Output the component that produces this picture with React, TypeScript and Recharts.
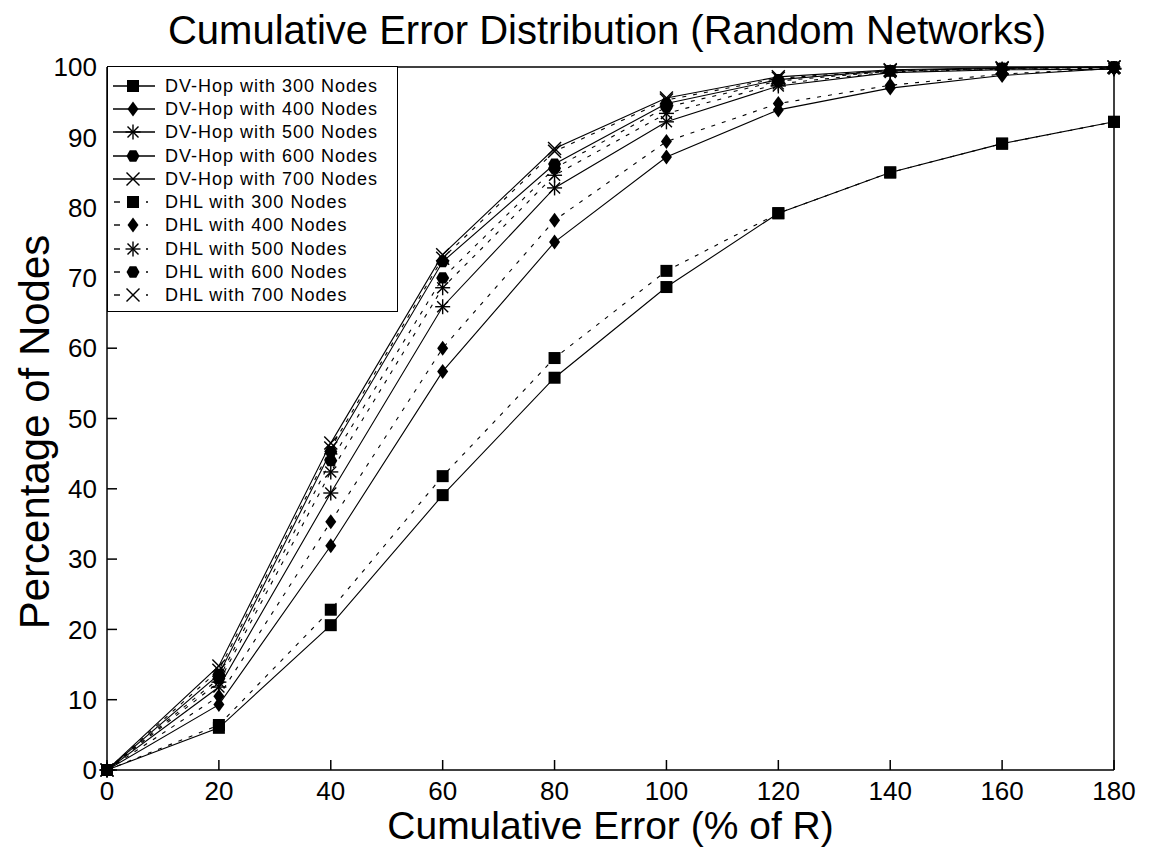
import { LineChart, Line, XAxis, YAxis } from 'recharts';

const errorLevels = [0, 20, 40, 60, 80, 100, 120, 140, 160, 180];

const dvHop300 = [0, 6.0, 20.6, 39.1, 55.8, 68.7, 79.2, 85.0, 89.1, 92.2];
const dvHop400 = [0, 9.3, 31.9, 56.7, 75.1, 87.2, 93.9, 97.0, 98.8, 99.8];
const dvHop500 = [0, 11.8, 39.4, 65.9, 82.8, 92.2, 97.3, 99.2, 99.6, 99.7];
const dvHop600 = [0, 13.6, 45.3, 72.3, 86.2, 94.8, 98.2, 99.5, 99.8, 100];
const dvHop700 = [0, 14.8, 46.5, 73.3, 88.4, 95.6, 98.6, 99.6, 99.9, 100];

const dhl300 = [0, 6.4, 22.8, 41.8, 58.6, 71.0, 79.2, 85.0, 89.1, 92.2];
const dhl400 = [0, 10.5, 35.3, 60.0, 78.2, 89.4, 94.8, 97.4, 99.0, 99.8];
const dhl500 = [0, 12.5, 42.4, 68.6, 84.6, 93.4, 97.6, 99.3, 99.7, 99.8];
const dhl600 = [0, 13.0, 44.0, 70.0, 85.6, 94.3, 98.0, 99.4, 99.8, 100];
const dhl700 = [0, 14.2, 45.8, 72.8, 88.0, 95.3, 98.4, 99.5, 99.8, 100];

const xTicks = [0, 20, 40, 60, 80, 100, 120, 140, 160, 180];
const yTicks = [0, 10, 20, 30, 40, 50, 60, 70, 80, 90, 100];

const data = errorLevels.map((x, i) => ({
  x,
  dv300: dvHop300[i],
  dv400: dvHop400[i],
  dv500: dvHop500[i],
  dv600: dvHop600[i],
  dv700: dvHop700[i],
  dhl300: dhl300[i],
  dhl400: dhl400[i],
  dhl500: dhl500[i],
  dhl600: dhl600[i],
  dhl700: dhl700[i],
}));

type MarkerKind = 'square' | 'diamond' | 'star' | 'hex' | 'cross';

const Marker = ({ kind, cx, cy }: { kind: MarkerKind; cx: number; cy: number }) => {
  if (kind === 'square') {
    return <rect x={cx - 6} y={cy - 6} width={12} height={12} fill="#000" />;
  }
  if (kind === 'diamond') {
    return (
      <polygon
        points={`${cx},${cy - 7.5} ${cx + 5.5},${cy} ${cx},${cy + 7.5} ${cx - 5.5},${cy}`}
        fill="#000"
      />
    );
  }
  if (kind === 'hex') {
    const pts = [0, 60, 120, 180, 240, 300]
      .map((a) => {
        const r = (a * Math.PI) / 180;
        return `${cx + 6.5 * Math.cos(r)},${cy + 6.5 * Math.sin(r)}`;
      })
      .join(' ');
    return <polygon points={pts} fill="#000" />;
  }
  if (kind === 'star') {
    const s = 7.5;
    const d = 5.5;
    return (
      <g stroke="#000" strokeWidth={1.4}>
        <line x1={cx - s} y1={cy} x2={cx + s} y2={cy} />
        <line x1={cx} y1={cy - s} x2={cx} y2={cy + s} />
        <line x1={cx - d} y1={cy - d} x2={cx + d} y2={cy + d} />
        <line x1={cx - d} y1={cy + d} x2={cx + d} y2={cy - d} />
      </g>
    );
  }
  const d = 6.5;
  return (
    <g stroke="#000" strokeWidth={1.4}>
      <line x1={cx - d} y1={cy - d} x2={cx + d} y2={cy + d} />
      <line x1={cx - d} y1={cy + d} x2={cx + d} y2={cy - d} />
    </g>
  );
};

const series: { key: string; name: string; kind: MarkerKind; dashed: boolean }[] = [
  { key: 'dv300', name: 'DV-Hop with 300 Nodes', kind: 'square', dashed: false },
  { key: 'dv400', name: 'DV-Hop with 400 Nodes', kind: 'diamond', dashed: false },
  { key: 'dv500', name: 'DV-Hop with 500 Nodes', kind: 'star', dashed: false },
  { key: 'dv600', name: 'DV-Hop with 600 Nodes', kind: 'hex', dashed: false },
  { key: 'dv700', name: 'DV-Hop with 700 Nodes', kind: 'cross', dashed: false },
  { key: 'dhl300', name: 'DHL with 300 Nodes', kind: 'square', dashed: true },
  { key: 'dhl400', name: 'DHL with 400 Nodes', kind: 'diamond', dashed: true },
  { key: 'dhl500', name: 'DHL with 500 Nodes', kind: 'star', dashed: true },
  { key: 'dhl600', name: 'DHL with 600 Nodes', kind: 'hex', dashed: true },
  { key: 'dhl700', name: 'DHL with 700 Nodes', kind: 'cross', dashed: true },
];

const FONT = '"Liberation Sans", Arial, sans-serif';

// legend drawn as an overlay box in the top-left corner of the plot
const LegendBox = () => (
  <div
    style={{
      position: 'absolute',
      left: 107,
      top: 66,
      width: 291,
      height: 246,
      border: '1.5px solid #000',
      background: '#fff',
      boxSizing: 'border-box',
      paddingTop: 7,
    }}
  >
    {series.map((s) => (
      <div key={s.key} style={{ display: 'flex', alignItems: 'center', height: 23.3 }}>
        <svg width={54} height={20} style={{ flexShrink: 0 }}>
          {s.dashed ? (
            <g stroke="#000" strokeWidth={1.4}>
              <line x1={6} y1={10} x2={12} y2={10} />
              <line x1={38} y1={10} x2={40} y2={10} />
            </g>
          ) : (
            <line x1={5} y1={10} x2={47} y2={10} stroke="#000" strokeWidth={1.4} />
          )}
          <Marker kind={s.kind} cx={25} cy={10} />
        </svg>
        <span
          style={{
            fontFamily: FONT,
            fontSize: 18,
            letterSpacing: 1,
            color: '#000',
            marginLeft: 3,
            whiteSpace: 'nowrap',
            lineHeight: '20px',
          }}
        >
          {s.name}
        </span>
      </div>
    ))}
  </div>
);

const tickStyle = { fontFamily: FONT, fontSize: 26, fill: '#000' };

const App = () => (
  <div style={{ position: 'absolute', left: 0, top: 0, width: 1150, height: 851, background: '#fff' }}>
    <LineChart
      width={1150}
      height={851}
      data={data}
      margin={{ top: 65, right: 34, bottom: 41, left: 47 }}
    >
      <XAxis
        dataKey="x"
        type="number"
        domain={[0, 180]}
        ticks={xTicks}
        tick={tickStyle}
        stroke="#000"
        strokeWidth={1.5}
        tickSize={-10}
        tickMargin={22}
        height={40}
        xAxisId={0}
      />
      <XAxis
        dataKey="x"
        type="number"
        domain={[0, 180]}
        ticks={xTicks}
        orientation="top"
        tick={false}
        stroke="#000"
        strokeWidth={1.5}
        tickSize={-10}
        height={2}
        xAxisId="top"
      />
      <YAxis
        type="number"
        domain={[0, 100]}
        ticks={yTicks}
        tick={tickStyle}
        stroke="#000"
        strokeWidth={1.5}
        tickSize={-10}
        tickMargin={20}
        width={60}
        yAxisId={0}
      />
      <YAxis
        type="number"
        domain={[0, 100]}
        ticks={yTicks}
        orientation="right"
        tick={false}
        stroke="#000"
        strokeWidth={1.5}
        tickSize={-10}
        width={2}
        yAxisId="right"
      />
      {series.map((s) => (
        <Line
          key={s.key}
          dataKey={s.key}
          name={s.name}
          stroke="#000"
          strokeWidth={1.1}
          strokeDasharray={s.dashed ? '4 7' : undefined}
          isAnimationActive={false}
          dot={(p: any) => <Marker key={`${s.key}-${p.index}`} kind={s.kind} cx={p.cx} cy={p.cy} />}
          activeDot={false}
          xAxisId={0}
          yAxisId={0}
        />
      ))}
    </LineChart>
    <LegendBox />
    <div
      style={{
        position: 'absolute',
        left: 0,
        width: 1150,
        top: 8,
        textAlign: 'center',
        fontFamily: FONT,
        fontSize: 40,
        lineHeight: '44px',
        color: '#000',
        paddingLeft: 64,
        boxSizing: 'border-box',
        whiteSpace: 'nowrap',
      }}
    >
      Cumulative Error Distribution (Random Networks)
    </div>
    <div
      style={{
        position: 'absolute',
        left: 107,
        width: 1007,
        top: 806,
        textAlign: 'center',
        fontFamily: FONT,
        fontSize: 39,
        lineHeight: '40px',
        color: '#000',
      }}
    >
      Cumulative Error (% of R)
    </div>
    <div
      style={{
        position: 'absolute',
        left: 35,
        top: 432,
        transform: 'translate(-50%, -50%) rotate(-90deg)',
        fontFamily: FONT,
        fontSize: 42,
        lineHeight: '44px',
        color: '#000',
        whiteSpace: 'nowrap',
      }}
    >
      Percentage of Nodes
    </div>
  </div>
);

export default App;
